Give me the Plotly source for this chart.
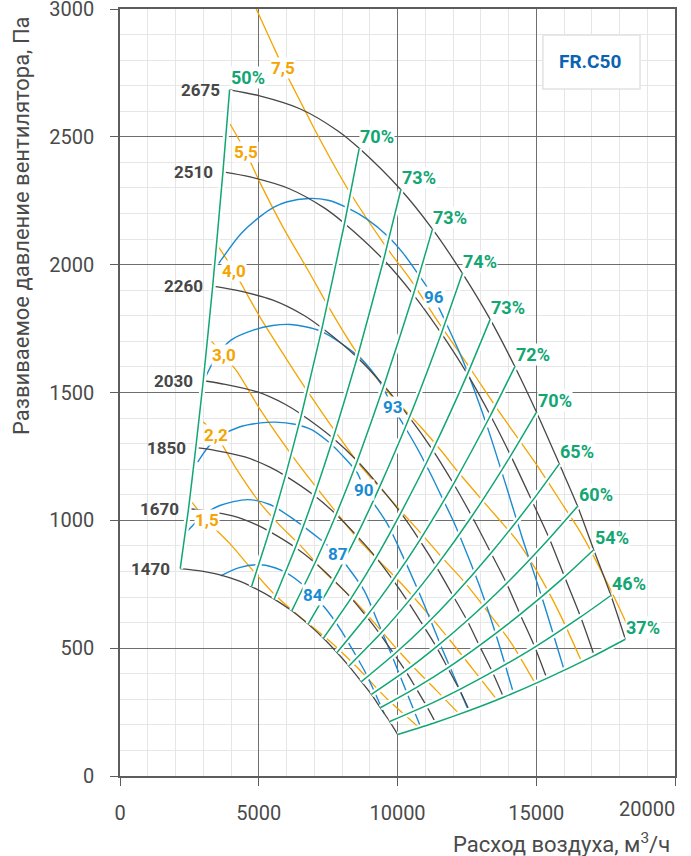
import plotly.graph_objects as go

# ---------------- data ----------------
speeds = [1470, 1670, 1850, 2030, 2260, 2510, 2675]

q_1470 = [2170, 2750, 3570, 4310, 4740, 5560, 6190, 6780, 7330, 7820, 8250, 8700, 9060, 9380, 9720, 10010]
p_1470 = [811, 804, 788, 762, 741, 692, 646, 594, 539, 483, 430, 369, 319, 267, 213, 162]
q_1670 = [2470, 3120, 4060, 4890, 5380, 6320, 7030, 7700, 8330, 8880, 9370, 9880, 10290, 10660, 11040, 11370]
p_1670 = [1046, 1037, 1017, 984, 957, 894, 834, 766, 696, 624, 555, 476, 411, 345, 275, 209]
q_1850 = [2730, 3460, 4500, 5420, 5960, 7000, 7790, 8530, 9230, 9840, 10380, 10950, 11400, 11810, 12230, 12590]
p_1850 = [1284, 1273, 1248, 1207, 1174, 1097, 1023, 940, 854, 766, 681, 584, 505, 423, 338, 256]
q_2030 = [3000, 3790, 4930, 5950, 6540, 7680, 8550, 9360, 10120, 10800, 11390, 12010, 12510, 12950, 13420, 13820]
p_2030 = [1546, 1532, 1503, 1454, 1414, 1321, 1232, 1132, 1029, 922, 820, 703, 608, 510, 407, 308]
q_2260 = [3340, 4220, 5490, 6620, 7280, 8550, 9510, 10430, 11270, 12020, 12680, 13370, 13930, 14420, 14950, 15380]
p_2260 = [1916, 1899, 1862, 1802, 1752, 1637, 1527, 1403, 1275, 1143, 1016, 872, 753, 632, 504, 382]
q_2510 = [3710, 4690, 6100, 7360, 8090, 9500, 10570, 11580, 12520, 13350, 14080, 14850, 15470, 16020, 16600, 17090]
p_2510 = [2363, 2343, 2297, 2222, 2161, 2019, 1883, 1731, 1572, 1410, 1253, 1075, 929, 779, 622, 471]
q_2675 = [3950, 5000, 6500, 7840, 8620, 10120, 11260, 12340, 13340, 14230, 15010, 15830, 16490, 17070, 17690, 18210]
p_2675 = [2684, 2661, 2609, 2524, 2455, 2293, 2139, 1966, 1786, 1601, 1423, 1221, 1055, 885, 706, 535]

# efficiency lines join the points of the speed curves at these positions
eff_labels = ["50%", "70%", "73%", "73%", "74%", "73%", "72%", "70%", "65%", "60%", "54%", "46%", "37%"]
eff_nodes = [0, 4, 5, 6, 7, 8, 9, 10, 11, 12, 13, 14, 15]

# shaft power lines, kW
power_labels = ["1,5", "2,2", "3,0", "4,0", "5,5", "7,5"]
q_kw15 = [2560, 3126, 3991, 4700, 5552, 6400, 7200, 7837, 8500, 9037, 9640, 10200, 10721]
p_kw15 = [1075, 1000, 905, 815, 712, 630, 560, 500, 430, 368, 300, 245, 195]
q_kw22 = [3000, 3450, 4200, 4953, 5674, 6514, 7354, 8317, 9157, 10000, 10721, 11400, 12163]
p_kw22 = [1385, 1335, 1200, 1081, 990, 900, 800, 700, 600, 494, 410, 335, 250]
q_kw30 = [3300, 3750, 4232, 5072, 6395, 7715, 8558, 9300, 10119, 11081, 11900, 12700, 13544]
p_kw30 = [1700, 1645, 1580, 1430, 1225, 1042, 930, 845, 755, 637, 530, 420, 304]
q_kw40 = [3550, 4110, 4600, 5072, 6034, 6755, 7837, 8677, 9640, 10840, 11561, 12400, 13200, 14100, 14925]
p_kw40 = [2070, 1975, 1880, 1790, 1625, 1505, 1335, 1212, 1094, 950, 860, 760, 650, 520, 369]
q_kw55 = [3966, 4531, 5072, 5912, 6755, 7596, 8437, 9640, 10840, 11561, 12163, 13004, 13605, 14326, 15000, 15800, 16608]
p_kw55 = [2550, 2440, 2315, 2139, 1982, 1820, 1672, 1505, 1365, 1274, 1192, 1085, 1010, 918, 805, 645, 454]
q_kw75 = [4894, 5500, 5884, 6150, 6755, 7115, 8197, 9640, 10480, 11320, 12643, 13605, 15047, 16006, 16608, 17628, 18385]
p_kw75 = [3004, 2860, 2770, 2712, 2584, 2508, 2298, 2062, 1940, 1800, 1590, 1434, 1212, 1052, 951, 740, 565]
power_label_at = [1, 1, 1, 1, 1, 2]

# sound level lines, dB
sound_labels = ["84", "87", "90", "93", "96"]
q_db84 = [3630, 4300, 5072, 5800, 6514, 6937, 7354, 7956, 8400, 8857, 9517]
p_db84 = [783, 815, 826, 805, 755, 708, 662, 572, 490, 402, 245]
q_db87 = [2450, 3000, 3600, 4593, 5400, 6273, 7235, 7838, 8200, 8800, 9300, 9800, 10300, 10840]
p_db87 = [960, 1020, 1058, 1081, 1062, 1003, 924, 870, 818, 725, 600, 470, 335, 190]
q_db90 = [2800, 3200, 3630, 4300, 5072, 5600, 6300, 6900, 7476, 8000, 8558, 8800, 9217, 9640, 10000, 10800, 11600, 12523]
p_db90 = [1228, 1290, 1330, 1365, 1381, 1384, 1376, 1355, 1310, 1255, 1185, 1120, 1055, 985, 905, 712, 500, 265]
q_db93 = [3100, 3500, 4000, 4830, 5500, 6150, 7235, 8500, 9000, 9400, 9820, 10240, 10720, 11200, 11600, 12000, 12500, 13000, 13600, 14145]
p_db93 = [1565, 1645, 1705, 1745, 1762, 1766, 1740, 1650, 1595, 1535, 1445, 1370, 1280, 1180, 1090, 1000, 870, 730, 535, 337]
q_db96 = [3560, 4350, 5070, 5550, 6000, 6800, 7500, 8200, 8900, 9640, 10200, 10700, 11300, 11800, 12300, 12800, 13300, 13900, 14500, 15200, 15990]
p_db96 = [2005, 2120, 2190, 2225, 2245, 2259, 2252, 2222, 2178, 2112, 2045, 1970, 1872, 1760, 1640, 1500, 1345, 1140, 930, 700, 420]
sound_label_at = [5, 7, 11, 10, 12]

x_ticks = [0, 5000, 10000, 15000, 20000]
y_ticks = [0, 500, 1000, 1500, 2000, 2500, 3000]

# ---------------- styling ----------------
GREEN = "#12a673"
BLACK = "#474747"
ORANGE = "#f5a400"
BLUE = "#1a8bd2"
FONT = "Roboto"

speed_q = [q_1470, q_1670, q_1850, q_2030, q_2260, q_2510, q_2675]
speed_p = [p_1470, p_1670, p_1850, p_2030, p_2260, p_2510, p_2675]
power_q = [q_kw15, q_kw22, q_kw30, q_kw40, q_kw55, q_kw75]
power_p = [p_kw15, p_kw22, p_kw30, p_kw40, p_kw55, p_kw75]
sound_q = [q_db84, q_db87, q_db90, q_db93, q_db96]
sound_p = [p_db84, p_db87, p_db90, p_db93, p_db96]

fig = go.Figure()

def add_line(x, y, color, width, name, smooth=0.8):
    fig.add_trace(go.Scatter(x=x, y=y, mode="lines", name=name, hoverinfo="skip",
                             line=dict(color=color, width=width, shape="spline", smoothing=smooth)))

for lab, xs, ys in zip(power_labels, power_q, power_p):
    add_line(xs, ys, ORANGE, 1.3, lab + " kW")
for lab, xs, ys in zip(sound_labels, sound_q, sound_p):
    add_line(xs, ys, BLUE, 1.4, lab + " dB")
for n, xs, ys in zip(speeds, speed_q, speed_p):
    add_line(xs, ys, BLACK, 1.3, str(n))

# efficiency lines (white halo underneath, as in the original)
for lab, k in zip(eff_labels, eff_nodes):
    ex = [q[k] for q in speed_q]
    ey = [p[k] for p in speed_p]
    add_line(ex, ey, "white", 6, lab + " halo", smooth=0.5)
for lab, k in zip(eff_labels, eff_nodes):
    ex = [q[k] for q in speed_q]
    ey = [p[k] for p in speed_p]
    add_line(ex, ey, GREEN, 1.5, lab, smooth=0.5)

ann = []
for n, xs, ys in zip(speeds, speed_q, speed_p):
    ann.append(dict(x=xs[0], y=ys[0], text=str(n), xanchor="right", yanchor="middle",
                    xshift=-8, showarrow=False, font=dict(family=FONT, size=17, color=BLACK, weight="bold")))
for lab, k in zip(eff_labels, eff_nodes):
    ann.append(dict(x=q_2675[k], y=p_2675[k], text=lab, xanchor="left", yanchor="middle",
                    xshift=0, yshift=12, showarrow=False, bgcolor="white", borderpad=0,
                    font=dict(family=FONT, size=18, color=GREEN, weight="bold")))
for lab, xs, ys, i in zip(power_labels, power_q, power_p, power_label_at):
    ann.append(dict(x=xs[i], y=ys[i], text=lab, xanchor="center", yanchor="middle",
                    showarrow=False, bgcolor="white", borderpad=0,
                    font=dict(family=FONT, size=17, color=ORANGE, weight="bold")))
for lab, xs, ys, i in zip(sound_labels, sound_q, sound_p, sound_label_at):
    ann.append(dict(x=xs[i], y=ys[i], text=lab, xanchor="center", yanchor="middle",
                    showarrow=False, bgcolor="white", borderpad=0,
                    font=dict(family=FONT, size=17, color=BLUE, weight="bold")))

# model badge
ann.append(dict(xref="paper", yref="paper", x=0.8468, y=0.9309, text="FR.C50", showarrow=False,
                xanchor="center", yanchor="middle",
                font=dict(family=FONT, size=19, color="#0b62b0", weight="bold")))
# axis titles
ann.append(dict(xref="paper", yref="paper", x=-0.1766, y=0.7184, text="Развиваемое давление вентилятора, Па",
                textangle=-90, showarrow=False, xanchor="center", yanchor="middle",
                font=dict(family=FONT, size=22, color="#4a4a4a")))
ann.append(dict(xref="paper", yref="paper", x=0.9946, y=-0.0874, text="Расход воздуха, м<sup>3</sup>/ч",
                showarrow=False, xanchor="right", yanchor="middle",
                font=dict(family=FONT, size=22, color="#4a4a4a")))
# last x tick label kept inside the figure
ann.append(dict(xref="x", yref="paper", x=x_ticks[-1], y=0, text=str(x_ticks[-1]), showarrow=False,
                xanchor="right", yanchor="top", yshift=-19, xshift=2,
                font=dict(family=FONT, size=20, color="#4a4a4a")))

axis_common = dict(showline=True, mirror=True, linecolor="#5c5c5c", linewidth=1.5,
                   ticks="outside", ticklen=8, tickcolor="#5c5c5c", tickwidth=1.2,
                   showgrid=True, gridcolor="#6e6e6e", gridwidth=1.3, zeroline=False,
                   automargin=False, ticklabeloverflow="allow",
                   tickfont=dict(family=FONT, size=20, color="#4a4a4a"))

fig.update_layout(
    width=691, height=856,
    margin=dict(l=120, r=16, t=9, b=80, autoexpand=False),
    paper_bgcolor="white", plot_bgcolor="white",
    showlegend=False,
    annotations=ann,
    shapes=[dict(type="rect", xref="paper", yref="paper", x0=0.762, x1=0.937, y0=0.8957, y1=0.9661,
                 line=dict(color="#e2e2e2", width=1.5), fillcolor="white", layer="above")],
    xaxis=dict(range=[0, 20000], tickvals=x_ticks,
               ticktext=[str(v) for v in x_ticks[:-1]] + [" "],
               minor=dict(dtick=1000, showgrid=True, gridcolor="#e6e6e6", gridwidth=1),
               ticklabelstandoff=10, **axis_common),
    yaxis=dict(range=[0, 3000], tickvals=y_ticks,
               minor=dict(dtick=100, showgrid=True, gridcolor="#e6e6e6", gridwidth=1),
               ticklabelstandoff=12, **axis_common),
)

fig.write_html("out.html", config={"displayModeBar": False},
               post_script="document.body.style.margin='0';")
